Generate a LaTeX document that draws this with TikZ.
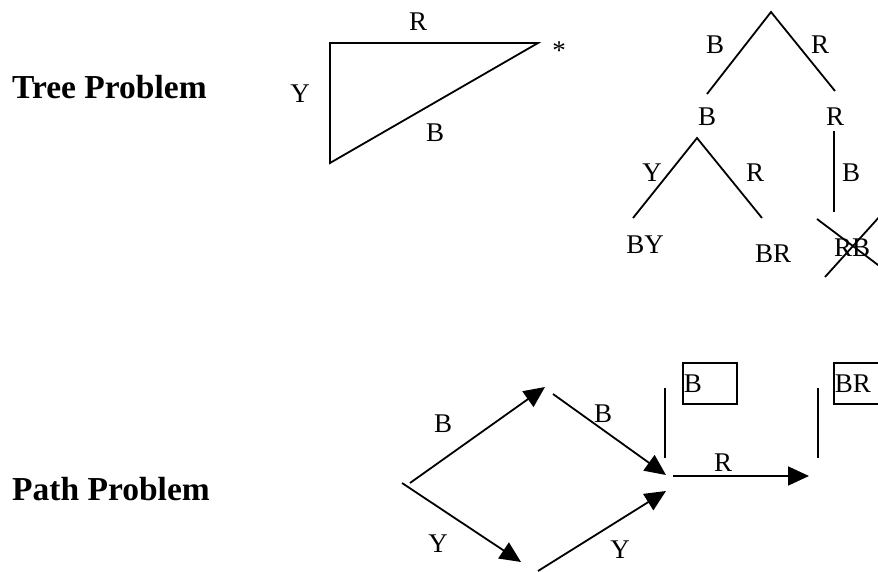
\documentclass[tikz,border=0pt]{standalone}
\usepackage{fontspec}
\setmainfont{Liberation Serif}
\usetikzlibrary{arrows.meta}
\begin{document}
\begin{tikzpicture}[x=1pt,y=-1pt,
  ln/.style={line width=1.8pt},
  arr/.style={line width=1.8pt,-{Triangle[length=21pt,width=19pt]}},
  lbl/.style={anchor=base,inner sep=0pt,font=\fontsize{27}{30}\selectfont},
  head/.style={anchor=base west,inner sep=0pt,font=\fontsize{33.5}{36}\selectfont\bfseries},
  boxlbl/.style={draw,line width=1.8pt,anchor=north west,inner xsep=1pt,inner ysep=0pt,
    minimum height=41pt,text width=52pt,align=left,font=\fontsize{27}{30}\selectfont}]
\useasboundingbox (0,0) rectangle (878,572);
\clip (0,0) rectangle (878,572);

% headings
\node[head] (treeh) at (12,99) {Tree Problem};
\node[head] (pathh) at (12,500) {Path Problem};

% triangle
\coordinate (t1) at (330,43);
\coordinate (t2) at (538,43);
\coordinate (t3) at (330,163);
\draw[ln,line join=miter] (t1) -- (t2) -- (t3) -- cycle;
\node[lbl] (tR) at (418,31) {R};
\node[lbl] (tY) at (300,103) {Y};
\node[lbl] (tB) at (435,142) {B};
\node[lbl] (tS) at (559,60) {*};

% tree
\coordinate (apex) at (771,12);
\coordinate (l1) at (707,94);
\coordinate (r1) at (835,91);
\draw[ln] (l1) -- (apex) -- (r1);
\node[lbl] (eB1) at (715,54) {B};
\node[lbl] (eR1) at (820,54) {R};
\node[lbl] (nB) at (707,126) {B};
\node[lbl] (nR) at (835,126) {R};
\coordinate (sub) at (697,138);
\coordinate (l2) at (633,218);
\coordinate (r2) at (762,218);
\draw[ln] (l2) -- (sub) -- (r2);
\coordinate (v1) at (834,131);
\coordinate (v2) at (834,212);
\draw[ln] (v1) -- (v2);
\node[lbl] (eY2) at (652,182) {Y};
\node[lbl] (eR2) at (755,182) {R};
\node[lbl] (eB2) at (851,182) {B};
\node[lbl] (nBY) at (645,253) {BY};
\node[lbl] (nBR) at (773,262) {BR};
\node[lbl] (nRB) at (852,256) {RB};
\coordinate (x1a) at (817,219);
\coordinate (x1b) at (890,274);
\coordinate (x2a) at (825,277);
\coordinate (x2b) at (890,205);
\draw[ln] (x1a) -- (x1b);
\draw[ln] (x2a) -- (x2b);

% path problem
\coordinate (s1) at (410,483);
\coordinate (s2) at (402,483);
\coordinate (u1) at (545,387);
\coordinate (d1) at (521,562);
\coordinate (u2) at (553,394);
\coordinate (d2) at (538,571);
\coordinate (m1) at (666,475);
\coordinate (m2) at (666,491);
\coordinate (h1) at (673,476);
\coordinate (h2) at (809,476);
\draw[arr] (s1) -- (u1);
\draw[arr] (s2) -- (d1);
\draw[arr] (u2) -- (m1);
\draw[arr] (d2) -- (m2);
\draw[arr] (h1) -- (h2);
\coordinate (w1a) at (665,388);
\coordinate (w1b) at (665,458);
\coordinate (w2a) at (818,388);
\coordinate (w2b) at (818,458);
\draw[ln] (w1a) -- (w1b);
\draw[ln] (w2a) -- (w2b);
\node[boxlbl] (boxB) at (682,362) {B};
\node[boxlbl] (boxBR) at (833,362) {BR};
\node[lbl] (pB1) at (443,432) {B};
\node[lbl] (pB2) at (603,422) {B};
\node[lbl] (pR) at (723,471) {R};
\node[lbl] (pY1) at (438,552) {Y};
\node[lbl] (pY2) at (620,558) {Y};
\end{tikzpicture}
\end{document}
